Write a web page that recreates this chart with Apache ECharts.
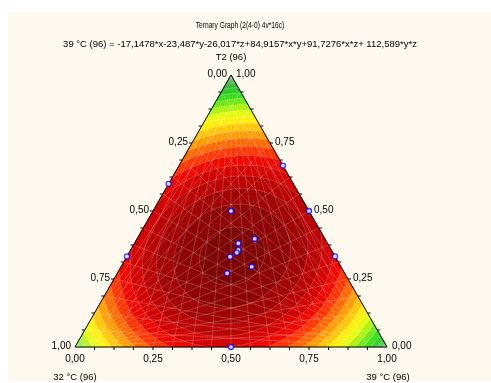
<!DOCTYPE html>
<html><head><meta charset="utf-8">
<script src="https://cdn.jsdelivr.net/npm/echarts@6/dist/echarts.min.js"></script>
<style>html,body{margin:0;padding:0;background:#fff}#c{width:491px;height:383px}</style>
</head><body><div id="c"></div>
<script>
// Fitted model: 39 °C (96) = a*x + b*y + c*z + d*x*y + e*x*z + g*y*z   (x = 32 °C, y = 39 °C, z = T2)
const coefLinear = [-17.1478, -23.487, -26.017];
const coefCross = [84.9157, 91.7276, 112.589]; // xy, xz, yz
// contour thresholds and band colours
const levelBounds = [-25,-23,-21,-19,-17,-15,-13,-11,-9,-7,-5,-3,-1,1,3,5,7,9];
const levelColors = ['#006e00','#008a00','#00a600','#00c200','#1cd800','#5ce800','#a4f200','#e4fa00','#ffee00',
  '#ffc400','#ff9a00','#ff6600','#ff3200','#ec0600','#d20000','#b80000','#a00000','#8c0000','#7c0000'];
// tick labels
const tickValues = [0, 0.25, 0.5, 0.75, 1];
const tickLabels = ['0,00','0,25','0,50','0,75','1,00'];
// design points: shares of 32 °C, 39 °C, T2
const pt32 = [0.40, 0.25, 0.00, 0.667, 0.000, 0.000, 0.50, 0.286, 0.225, 0.298, 0.308, 0.337, 0.286, 0.377];
const pt39 = [0.00, 0.25, 0.50, 0.000, 0.667, 0.333, 0.50, 0.333, 0.377, 0.345, 0.345, 0.331, 0.419, 0.352];
const ptT2 = [0.60, 0.50, 0.50, 0.333, 0.333, 0.667, 0.00, 0.381, 0.398, 0.357, 0.347, 0.332, 0.295, 0.271];

const FONT = '"Liberation Sans", Arial, sans-serif';
const SEAM = 'rgba(253,249,239,0.22)';
function model(x, y, z) {
  return coefLinear[0]*x + coefLinear[1]*y + coefLinear[2]*z + coefCross[0]*x*y + coefCross[1]*x*z + coefCross[2]*y*z;
}
function toXY(s39, sT2) { return [s39 + sT2/2, sT2]; }

function clipPoly(pts, vals, thr, above) {
  const oP = [], oV = [];
  const n = pts.length;
  for (let i = 0; i < n; i++) {
    const p = pts[i], v = vals[i], q = pts[(i+1)%n], w = vals[(i+1)%n];
    const pin = above ? v >= thr : v <= thr;
    const qin = above ? w >= thr : w <= thr;
    if (pin) { oP.push(p); oV.push(v); }
    if (pin !== qin) {
      const t = (thr - v) / (w - v);
      oP.push([p[0] + t*(q[0]-p[0]), p[1] + t*(q[1]-p[1])]); oV.push(thr);
    }
  }
  return [oP, oV];
}
const polys = [];
const segs = [];
const N = 64;
function vert(i, j) { const z = i/N, y = j/N, x = 1 - z - y; return {p: toXY(y, z), v: model(x, y, z)}; }
function addTri(a, b, c) {
  const pts = [a.p, b.p, c.p], vals = [a.v, b.v, c.v];
  const mn = Math.min(...vals), mx = Math.max(...vals);
  for (let k = 0; k < levelColors.length; k++) {
    const lo = k === 0 ? -Infinity : levelBounds[k-1];
    const hi = k === levelColors.length-1 ? Infinity : levelBounds[k];
    if (mx < lo || mn > hi) continue;
    let P = pts, V = vals;
    if (isFinite(lo)) [P, V] = clipPoly(P, V, lo, true);
    if (P.length < 3) continue;
    if (isFinite(hi)) [P, V] = clipPoly(P, V, hi, false);
    if (P.length < 3) continue;
    polys.push({pts: P, k: k});
  }
  levelBounds.forEach(L => {
    if (mn >= L || mx <= L) return;
    const cut = [];
    for (let e = 0; e < 3; e++) {
      const p = pts[e], v = vals[e], q = pts[(e+1)%3], w = vals[(e+1)%3];
      if ((v < L) !== (w < L)) {
        const t = (L - v) / (w - v);
        cut.push([p[0] + t*(q[0]-p[0]), p[1] + t*(q[1]-p[1])]);
      }
    }
    if (cut.length === 2) segs.push(cut);
  });
}
for (let i = 0; i < N; i++) {
  for (let j = 0; i + j < N; j++) {
    addTri(vert(i, j), vert(i, j+1), vert(i+1, j));
    if (i + j + 2 <= N) addTri(vert(i, j+1), vert(i+1, j+1), vert(i+1, j));
  }
}
const GS = 16;
for (let m = 1; m < GS; m++) {
  const a = m / GS;
  segs.push([toXY(0, 1), toXY(a, 0)]);
  segs.push([toXY(0, 0), toXY(1 - a, a)]);
  segs.push([toXY(1, 0), toXY(0, a)]);
}

const chart = echarts.init(document.getElementById('c'), null, {renderer: 'canvas'});
const txt = (x, y, s, size, sx) => ({type: 'text', x: x, y: y, scaleX: sx || 1, silent: true,
  style: {text: s, fill: '#000', font: size + 'px ' + FONT, textAlign: 'center', textVerticalAlign: 'middle'}});

chart.setOption({
  animation: false,
  backgroundColor: '#ffffff',
  grid: {left: 75, top: 75, width: 312, height: 272},
  xAxis: {type: 'value', min: 0, max: 1, show: false},
  yAxis: {type: 'value', min: 0, max: 1, show: false},
  graphic: [
    {type: 'rect', z: -100, silent: true, shape: {x: 8, y: 12, width: 483, height: 369}, style: {fill: '#fdf9ef'}},
    txt(240, 26, 'Ternary Graph (2(4-0) 4v*16c)', 8.5, 0.78),
    txt(240, 44, '39 °C (96) = -17,1478*x-23,487*y-26,017*z+84,9157*x*y+91,7276*x*z+ 112,589*y*z', 9.5),
    txt(231, 57, 'T2 (96)', 9.5),
    txt(75, 377, '32 °C (96)', 9.5),
    txt(388, 377, '39 °C (96)', 9.5)
  ],
  series: [
    {
      type: 'custom', coordinateSystem: 'cartesian2d', clip: false, silent: true, progressive: 0, z: 1,
      data: polys.map((p, i) => [i]),
      renderItem: (params, api) => {
        const p = polys[params.dataIndex];
        const c = levelColors[p.k];
        return {type: 'polygon', shape: {points: p.pts.map(q => api.coord(q))},
          style: {fill: c, stroke: c, lineWidth: 0.6}};
      }
    },
    {
      type: 'custom', coordinateSystem: 'cartesian2d', clip: false, silent: true, progressive: 0, z: 2,
      data: segs.map((l, i) => [i]),
      renderItem: (params, api) => {
        const l = segs[params.dataIndex];
        const a = api.coord(l[0]), b = api.coord(l[1]);
        return {type: 'line', shape: {x1: a[0], y1: a[1], x2: b[0], y2: b[1]},
          style: {stroke: SEAM, lineWidth: 0.9}};
      }
    },
    {
      type: 'custom', coordinateSystem: 'cartesian2d', clip: false, silent: true, z: 3,
      data: [[0]],
      renderItem: (params, api) => {
        const A = api.coord(toXY(0, 1)), L = api.coord(toXY(0, 0)), R = api.coord(toXY(1, 0));
        const ch = [{type: 'polygon', shape: {points: [A, L, R]}, style: {fill: 'none', stroke: '#000', lineWidth: 1}}];
        for (let m = 1; m < 16; m++) {
          const v = m / 16;
          const b = api.coord(toXY(v, 0));
          ch.push({type: 'line', shape: {x1: b[0], y1: b[1], x2: b[0], y2: b[1] + 3}, style: {stroke: '#000', lineWidth: 1}});
          const l = api.coord(toXY(0, 1 - v));
          ch.push({type: 'line', shape: {x1: l[0], y1: l[1], x2: l[0] - 3, y2: l[1]}, style: {stroke: '#000', lineWidth: 1}});
          const r = api.coord(toXY(1 - v, v));
          ch.push({type: 'line', shape: {x1: r[0], y1: r[1], x2: r[0] + 3, y2: r[1]}, style: {stroke: '#000', lineWidth: 1}});
        }
        const st = (s, x, y, al) => ({type: 'text', style: {text: s, x: x, y: y, fill: '#000', font: '10px ' + FONT, textAlign: al, textVerticalAlign: 'middle'}});
        tickValues.forEach((v, i) => {
          const b = api.coord(toXY(v, 0));
          ch.push(st(tickLabels[i], b[0], b[1] + 12, 'center'));
          const l = api.coord(toXY(0, 1 - v));
          ch.push(st(tickLabels[i], l[0] - 4, l[1] - 1, 'right'));
          const r = api.coord(toXY(1 - v, v));
          ch.push(st(tickLabels[i], r[0] + 5, r[1] - 1, 'left'));
        });
        return {type: 'group', children: ch};
      }
    },
    {
      type: 'scatter', z: 5, symbol: 'circle', symbolSize: 5,
      itemStyle: {color: '#ffffff', borderColor: '#0000ff', borderWidth: 1.3},
      data: pt32.map((x, i) => toXY(pt39[i], ptT2[i]))
    }
  ]
});
</script></body></html>
